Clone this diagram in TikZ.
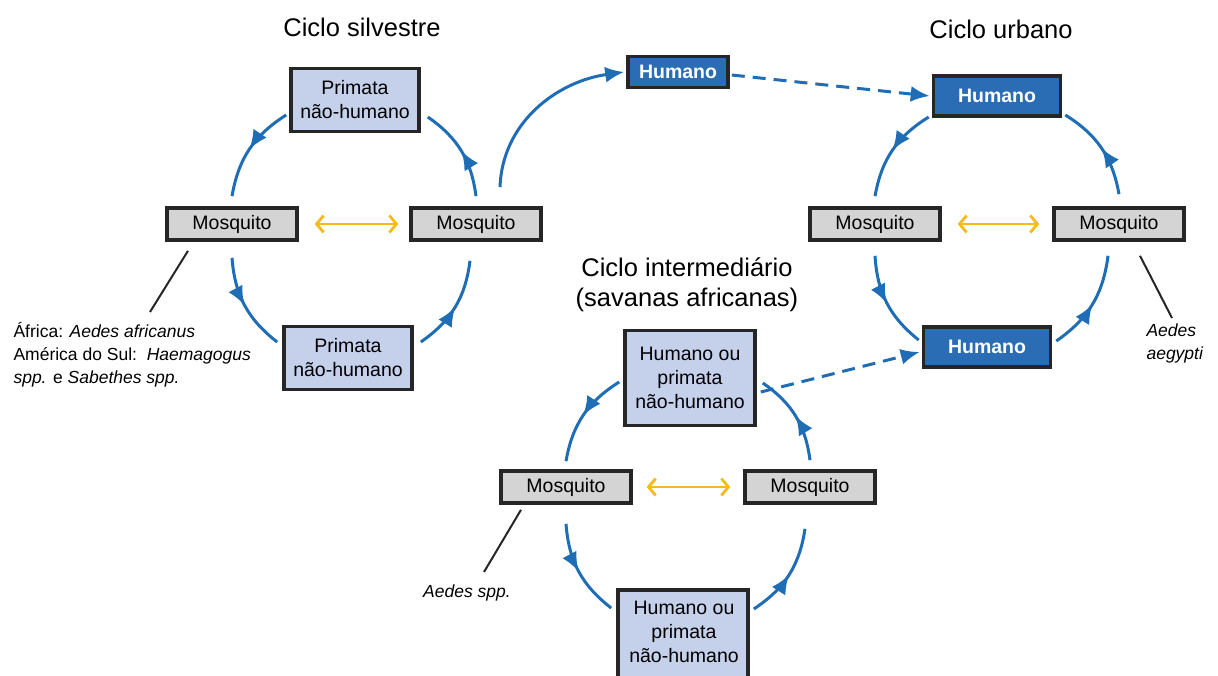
\documentclass[tikz,border=0pt]{standalone}
\usepackage{fontspec}
\setmainfont{Liberation Sans}
\usetikzlibrary{arrows.meta,decorations.markings}
\definecolor{boxblue}{HTML}{C5D0EB}
\definecolor{boxgrey}{HTML}{D4D4D4}
\definecolor{darkblue}{HTML}{2B6DB5}
\definecolor{arcblue}{HTML}{1F6DB4}
\definecolor{gold}{HTML}{F7BA1A}
\begin{document}
\begin{tikzpicture}[x=1pt,y=1pt,
  basebox/.style={draw=black!85,line width=3.6pt,inner sep=0pt,align=center,
    font=\fontsize{19.5}{24}\selectfont},
  primbox/.style={basebox,fill=boxblue,minimum width=128pt,minimum height=63pt},
  mixbox/.style={basebox,fill=boxblue,minimum width=130pt,minimum height=95pt},
  mosbox/.style={basebox,fill=boxgrey,minimum width=130pt,minimum height=32pt,
    font=\fontsize{19.5}{24}\selectfont},
  humbox/.style={basebox,fill=darkblue,text=white,minimum width=127pt,minimum height=40pt,
    font=\fontsize{19.5}{24}\selectfont\bfseries},
  title/.style={font=\fontsize{25.5}{30}\selectfont,align=center},
  lbl/.style={font=\fontsize{17.5}{23}\selectfont},
  cyc/.style={draw=arcblue,line width=3pt,
    postaction={decorate},
    decoration={markings,mark=at position 0.5 with {\arrow{Latex[length=19pt,width=16pt]}}}},
  link/.style={draw=arcblue,line width=3pt,-{Latex[length=19pt,width=16pt]}},
  dlink/.style={draw=arcblue,line width=3pt,dash pattern=on 13pt off 8pt,-{Latex[length=19pt,width=16pt]}},
  yel/.style={draw=gold,line width=2.8pt,{Straight Barb[length=7pt,width=17pt]}-{Straight Barb[length=7pt,width=17pt]}},
  pointer/.style={draw=black!85,line width=2pt}
]
\useasboundingbox (0,0) rectangle (1218,-675);
\clip (0,0) rectangle (1218,-675);

% ---- Ciclo silvestre ----
\node[title] (t1) at (362,-27) {Ciclo silvestre};
\node[primbox] (sp1) at (355,-100) {Primata\\não-humano};
\node[mosbox] (sm1) at (232,-224) {Mosquito};
\node[mosbox] (sm2) at (476,-224) {Mosquito};
\node[primbox] (sp2) at (348,-358) {Primata\\não-humano};

\draw[cyc] ([xshift=-3pt,yshift=-15pt]sp1.west) to[bend right=24] ([yshift=10pt]sm1.north);
\draw[cyc] ([yshift=10pt]sm2.north) to[bend right=24] ([xshift=7pt,yshift=-17pt]sp1.east);
\draw[cyc] ([yshift=-16pt]sm1.south) to[bend right=24] ([xshift=-5pt,yshift=16pt]sp2.west);
\draw[cyc] ([xshift=7pt,yshift=16pt]sp2.east) to[bend right=24] ([xshift=-6pt,yshift=-19pt]sm2.south);
\draw[yel] ([xshift=16pt]sm1.east) -- ([xshift=-11pt]sm2.west);

\coordinate (sl1a) at ([xshift=-44pt,yshift=-9pt]sm1.south);
\coordinate (sl1b) at (150,-312);
\draw[pointer] (sl1a) -- (sl1b);
\node[lbl,anchor=north west,align=left] (slbl) at (10,-319)
  {África: \textit{Aedes africanus}\\América do Sul:\ \ \textit{Haemagogus}\\\textit{spp.} e \textit{Sabethes spp.}};

% ---- Humano central ----
\node[humbox,minimum width=100pt,minimum height=31pt] (hc) at (678,-72) {Humano};
\draw[link] ([xshift=24pt,yshift=19pt]sm2.north) to[out=88,in=188] ([xshift=-2pt]hc.west);

% ---- Ciclo urbano ----
\node[title] (t2) at (1001,-29) {Ciclo urbano};
\node[humbox] (uh1) at (997,-96) {Humano};
\node[mosbox] (um1) at (875,-224) {Mosquito};
\node[mosbox] (um2) at (1119,-224) {Mosquito};
\node[humbox] (uh2) at (987,-347) {Humano};

\draw[dlink] ([xshift=2pt,yshift=-3pt]hc.east) -- ([xshift=-2pt]uh1.west);
\draw[cyc] ([xshift=-3pt,yshift=-21pt]uh1.west) to[bend right=24] ([yshift=10pt]um1.north);
\draw[cyc] ([yshift=12pt]um2.north) to[bend right=24] ([xshift=3pt,yshift=-19pt]uh1.east);
\draw[cyc] ([yshift=-14pt]um1.south) to[bend right=24] ([xshift=-3pt,yshift=7pt]uh2.west);
\draw[cyc] ([xshift=4pt,yshift=6pt]uh2.east) to[bend right=24] ([xshift=-11pt,yshift=-14pt]um2.south);
\draw[yel] ([xshift=16pt]um1.east) -- ([xshift=-13pt]um2.west);

\coordinate (ul1a) at ([xshift=21pt,yshift=-14pt]um2.south);
\coordinate (ul1b) at (1172,-318);
\draw[pointer] (ul1a) -- (ul1b);
\node[lbl,anchor=north west,align=left] (ulbl) at (1143,-320) {\textit{Aedes}\\\textit{aegypti}};

% ---- Ciclo intermediario ----
\node[title] (t3) at (687,-285) {Ciclo intermediário\\(savanas africanas)};
\node[mixbox] (ih1) at (690,-378) {Humano ou\\primata\\não-humano};
\node[mosbox] (im1) at (566,-487) {Mosquito};
\node[mosbox] (im2) at (810,-487) {Mosquito};
\node[mixbox,anchor=north,minimum height=120pt] (ih2) at (683,-588) {};
\node[font=\fontsize{19.5}{24}\selectfont,align=center,anchor=north] (ih2t) at (684,-598) {Humano ou\\primata\\não-humano};

\draw[dlink] ([xshift=4pt,yshift=-14pt]ih1.east) -- ([xshift=-2pt,yshift=-5pt]uh2.west);
\draw[cyc] ([xshift=-4pt,yshift=-4pt]ih1.west) to[bend right=24] ([yshift=8pt]im1.north);
\draw[cyc] ([yshift=9pt]im2.north) to[bend right=24] ([xshift=6pt,yshift=-5pt]ih1.east);
\draw[cyc] ([yshift=-19pt]im1.south) to[bend right=24] ([xshift=-5pt,yshift=-20pt]ih2.north west);
\draw[cyc] ([xshift=4pt,yshift=-21pt]ih2.north east) to[bend right=24] ([xshift=-5pt,yshift=-24pt]im2.south);
\draw[yel] ([xshift=14pt]im1.east) -- ([xshift=-13pt]im2.west);

\coordinate (il1a) at ([xshift=-45pt,yshift=-5pt]im1.south);
\coordinate (il1b) at (484,-572);
\draw[pointer] (il1a) -- (il1b);
\node[lbl] (ilbl) at (467,-593) {\textit{Aedes spp.}};
\end{tikzpicture}
\end{document}
